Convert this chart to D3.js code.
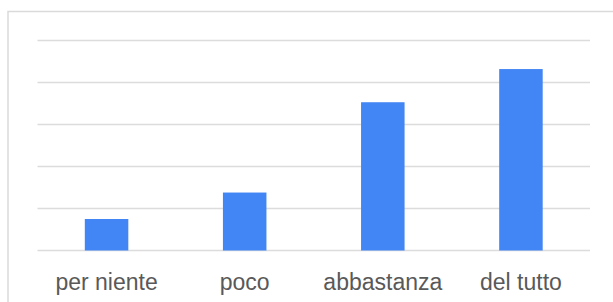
<!DOCTYPE html>
<html lang="it">
<head>
<meta charset="UTF-8">
<title>Grafico</title>
<script src="https://cdn.jsdelivr.net/npm/d3@7"></script>
<style>
  body { margin: 0; background: #fff; }
  svg { display: block; }
</style>
</head>
<body>
<div id="chart"></div>
<script>
  const categories = ['per niente', 'poco', 'abbastanza', 'del tutto']
  const values = [7.5, 13.8, 35.3, 43.2]
  const yTicks = [0, 10, 20, 30, 40, 50]

  const W = 613, H = 302
  const svg = d3.select('#chart').append('svg')
    .attr('width', W).attr('height', H)

  // cornice
  svg.append('rect')
    .attr('x', 8).attr('y', 11.5)
    .attr('width', W).attr('height', H)
    .attr('fill', '#fff')
    .attr('stroke', '#dadada')
    .attr('stroke-width', 1.5)

  const x = d3.scaleBand().domain(categories).range([37.5, 590]).padding(0)
  const y = d3.scaleLinear().domain([0, 50]).range([250.5, 40.5])

  // griglia
  svg.append('g').selectAll('line')
    .data(yTicks)
    .join('line')
    .attr('x1', 37.5).attr('x2', 590)
    .attr('y1', d => y(d)).attr('y2', d => y(d))
    .attr('stroke', '#dcdcdc')
    .attr('stroke-width', 1.5)

  const barW = x.bandwidth() * 0.315
  svg.append('g').selectAll('rect')
    .data(values)
    .join('rect')
    .attr('x', (d, i) => x(categories[i]) + x.bandwidth() / 2 - barW / 2)
    .attr('y', d => y(d))
    .attr('width', barW)
    .attr('height', d => y(0) - y(d))
    .attr('fill', '#4285f4')

  // asse x
  const xAxis = svg.append('g')
    .attr('transform', `translate(0,${y(0)})`)
    .call(d3.axisBottom(x).tickSize(0).tickPadding(23))
  xAxis.select('.domain').remove()
  xAxis.selectAll('text')
    .attr('font-family', 'Liberation Sans, Arial, sans-serif')
    .attr('font-size', 23)
    .attr('fill', '#595959')
</script>
</body>
</html>
